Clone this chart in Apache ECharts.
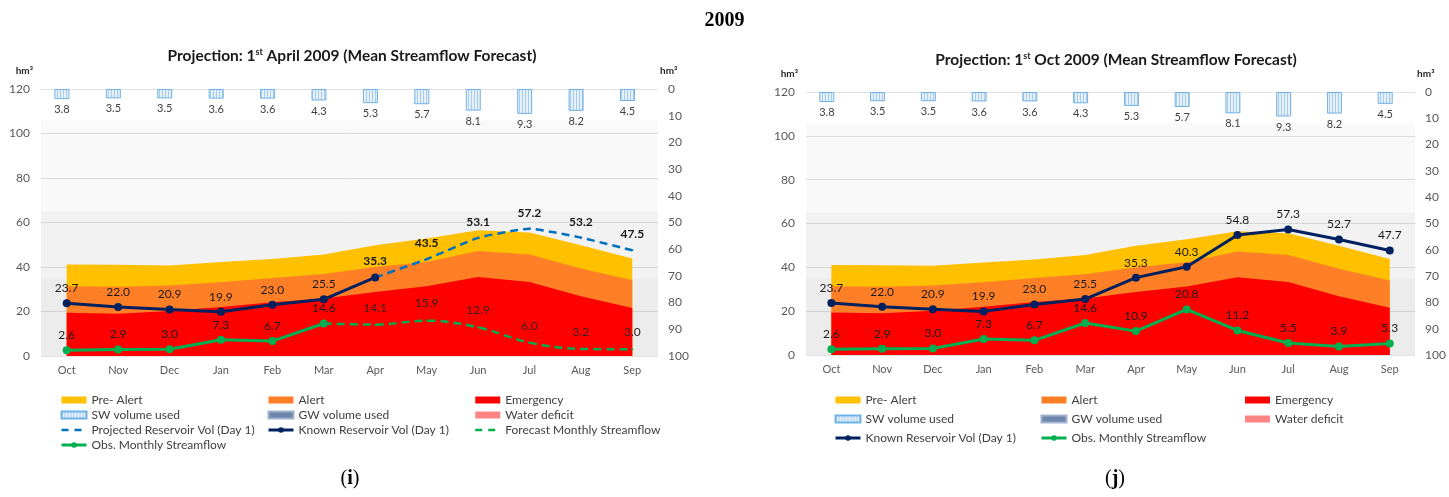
<!DOCTYPE html>
<html>
<head>
<meta charset="utf-8">
<title>2009 reservoir projections</title>
<script src="https://cdn.jsdelivr.net/npm/echarts@6/dist/echarts.min.js"></script>
<style>
  html, body { margin: 0; padding: 0; background: #ffffff; }
  #chart { width: 1449px; height: 497px; }
</style>
</head>
<body>
<div id="chart"></div>
<script>
// ---- data ----
const months = ['Oct', 'Nov', 'Dec', 'Jan', 'Feb', 'Mar', 'Apr', 'May', 'Jun', 'Jul', 'Aug', 'Sep'];

// Operating thresholds (upper edge of each zone, hm³)
const emergencyTop = [19.4, 19.0, 20.2, 22.0, 24.2, 25.8, 28.8, 31.3, 35.5, 33.3, 26.8, 21.6];
const alertTop     = [31.4, 31.1, 31.7, 33.2, 35.1, 36.9, 40.0, 42.3, 47.2, 45.6, 39.3, 34.0];
const preAlertTop  = [41.1, 41.0, 40.7, 42.2, 43.6, 45.6, 49.8, 52.8, 56.5, 55.5, 49.8, 43.8];

// Surface water volume used (hm³, secondary inverted axis)
const swUsed = [3.8, 3.5, 3.5, 3.6, 3.6, 4.3, 5.3, 5.7, 8.1, 9.3, 8.2, 4.5];

// Projection from 1st April 2009
const knownVolApr     = [23.7, 22.0, 20.9, 19.9, 23.0, 25.5, 35.3, null, null, null, null, null];
const projectedVolApr = [null, null, null, null, null, null, 35.3, 43.5, 53.1, 57.2, 53.2, 47.5];
const obsFlowApr      = [2.6, 2.9, 3.0, 7.3, 6.7, 14.6, null, null, null, null, null, null];
const forecastFlowApr = [null, null, null, null, null, 14.6, 14.1, 15.9, 12.9, 6.0, 3.2, 3.0];

// Projection from 1st October 2009
const knownVolOct = [23.7, 22.0, 20.9, 19.9, 23.0, 25.5, 35.3, 40.3, 54.8, 57.3, 52.7, 47.7];
const obsFlowOct  = [2.6, 2.9, 3.0, 7.3, 6.7, 14.6, 10.9, 20.8, 11.2, 5.5, 3.9, 5.3];

// Background storage bands (hm³)
const bandEdges  = [0, 35, 65, 106];
const bandColors = ['rgba(0,0,0,0.075)', 'rgba(0,0,0,0.05)', 'rgba(0,0,0,0.022)'];

const leftTicks  = { min: 0, max: 120, interval: 20 };
const rightTicks = { min: 0, max: 100, interval: 10 };

// ---- styling helpers ----
const FONT = 'Lato, "Open Sans", sans-serif';
const SERIF = '"Liberation Serif", "DejaVu Serif", serif';
const TXT = '#404040';
const AXTXT = '#595959';
const DASH = [8, 5];

function stripePattern() {
  const c = document.createElement('canvas');
  c.width = 3; c.height = 4;
  const g = c.getContext('2d');
  g.fillStyle = '#e6f0fa';
  g.fillRect(0, 0, 3, 4);
  g.fillStyle = '#a8ccee';
  g.fillRect(0, 0, 1, 4);
  return c;
}
const swFill = { image: stripePattern(), repeat: 'repeat' };

const fmt = p => (p.value == null ? '' : Number(p.value).toFixed(1));

function bandAreas() {
  const out = [];
  for (let i = 0; i < bandColors.length; i++) {
    out.push([{ yAxis: bandEdges[i], itemStyle: { color: bandColors[i] } }, { yAxis: bandEdges[i + 1] }]);
  }
  return out;
}

function zoneSeries(g, name, values, color, withBands) {
  const s = {
    name, type: 'line', xAxisIndex: g, yAxisIndex: g * 2,
    data: values, symbol: 'none', silent: true,
    lineStyle: { width: 0, color },
    itemStyle: { color },
    areaStyle: { color, opacity: 1 },
    z: 1
  };
  if (withBands) {
    s.markArea = { silent: true, z: 0, data: bandAreas() };
  }
  return s;
}

function labelCfg(extra) {
  return Object.assign({ show: true, position: 'top', distance: 5, color: '#1a1a1a', fontSize: 12, fontFamily: FONT, formatter: fmt }, extra || {});
}

function buildChart(g, opts) {
  const series = [];
  series.push(zoneSeries(g, 'Pre- Alert', preAlertTop, '#ffc000', true));
  series.push(zoneSeries(g, 'Alert', alertTop, '#ff7f27', false));
  series.push(zoneSeries(g, 'Emergency', emergencyTop, '#ff0000', false));

  series.push({
    name: 'SW volume used', type: 'bar', xAxisIndex: g, yAxisIndex: g * 2 + 1,
    data: swUsed, barWidth: 15,
    itemStyle: { color: swFill, borderColor: '#71b1e6', borderWidth: 1 },
    label: { show: true, position: 'bottom', distance: 5, color: TXT, fontSize: 11, fontFamily: FONT, formatter: fmt },
    z: 2
  });
  series.push({
    name: 'GW volume used', type: 'bar', xAxisIndex: g, yAxisIndex: g * 2 + 1,
    data: [], itemStyle: { color: '#6d85ab', borderColor: '#9fb1cc', borderWidth: 1 }
  });
  series.push({
    name: 'Water deficit', type: 'bar', xAxisIndex: g, yAxisIndex: g * 2 + 1,
    data: [], itemStyle: { color: '#ff8585' }
  });

  if (opts.projected) {
    series.push({
      name: 'Projected Reservoir Vol (Day 1)', type: 'line', xAxisIndex: g, yAxisIndex: g * 2,
      data: opts.projected, symbol: 'circle', symbolSize: 2, smooth: 0.15,
      lineStyle: { color: '#0070c0', width: 2.5, type: DASH },
      itemStyle: { color: '#0070c0' },
      label: labelCfg({ fontWeight: 'bold', distance: 9 }),
      z: 4
    });
  }
  const hideKnown = opts.projected ? opts.projected.map(v => v != null) : months.map(() => false);
  series.push({
    name: 'Known Reservoir Vol (Day 1)', type: 'line', xAxisIndex: g, yAxisIndex: g * 2,
    data: opts.known, symbol: 'circle', symbolSize: 8, showAllSymbol: true,
    lineStyle: { color: '#002060', width: 3 },
    itemStyle: { color: '#002060' },
    label: labelCfg({ formatter: p => (hideKnown[p.dataIndex] ? '' : fmt(p)) }),
    z: 5
  });
  if (opts.forecast) {
    series.push({
      name: 'Forecast Monthly Streamflow', type: 'line', xAxisIndex: g, yAxisIndex: g * 2,
      data: opts.forecast, symbol: 'circle', symbolSize: 2, smooth: 0.35,
      lineStyle: { color: '#00b050', width: 2.5, type: DASH },
      itemStyle: { color: '#00b050' },
      label: labelCfg({ color: '#3a2020', distance: 10, formatter: p => (opts.obs[p.dataIndex] != null ? '' : fmt(p)) }),
      z: 4
    });
  }
  series.push({
    name: 'Obs. Monthly Streamflow', type: 'line', xAxisIndex: g, yAxisIndex: g * 2,
    data: opts.obs, symbol: 'circle', symbolSize: 8, showAllSymbol: true,
    lineStyle: { color: '#00b050', width: 3 },
    itemStyle: { color: '#00b050' },
    label: labelCfg(),
    z: 5
  });
  return series;
}

function xAxisFor(g) {
  return {
    type: 'category', gridIndex: g, data: months, boundaryGap: true,
    axisLine: { show: false }, axisTick: { show: false },
    axisLabel: { color: AXTXT, fontSize: 11, fontFamily: FONT, margin: 9 }
  };
}
function yAxesFor(g) {
  return [
    Object.assign({
      type: 'value', gridIndex: g, position: 'left',
      name: 'hm³', nameLocation: 'end', nameGap: 13,
      nameTextStyle: { color: '#262626', fontSize: 10, fontWeight: 'bold', fontFamily: FONT, align: 'right', padding: [0, 8, 0, 0] },
      axisLine: { show: false }, axisTick: { show: false },
      splitLine: { lineStyle: { color: '#e2e2e2', width: 1 } },
      axisLabel: { color: AXTXT, fontSize: 12, fontFamily: FONT, margin: 11 }
    }, leftTicks),
    Object.assign({
      type: 'value', gridIndex: g, position: 'right', inverse: true,
      name: 'hm³', nameLocation: 'start', nameGap: 13,
      nameTextStyle: { color: '#262626', fontSize: 10, fontWeight: 'bold', fontFamily: FONT, align: 'left', padding: [0, 0, 0, 2] },
      axisLine: { show: false }, axisTick: { show: false },
      splitLine: { show: false },
      axisLabel: { color: AXTXT, fontSize: 12, fontFamily: FONT, margin: 10 }
    }, rightTicks)
  ];
}

const dashedNames = ['Projected Reservoir Vol (Day 1)', 'Forecast Monthly Streamflow'];
const markerNames = ['Known Reservoir Vol (Day 1)', 'Obs. Monthly Streamflow'];

function legendCol(left, names, gap) {
  return {
    orient: 'vertical', left, top: 388, itemGap: gap, itemWidth: 25, itemHeight: 7,
    selectedMode: false,
    textStyle: { color: TXT, fontSize: 12, fontFamily: FONT, lineHeight: 14 },
    data: names.map(n => {
      if (dashedNames.includes(n)) {
        return { name: n, itemStyle: { opacity: 0 }, lineStyle: { width: 2.5, type: [7, 6] } };
      }
      if (markerNames.includes(n)) {
        return { name: n, lineStyle: { width: 3 } };
      }
      return { name: n, icon: 'rect' };
    })
  };
}

const titleStyle = { color: '#1a1a1a', fontSize: 15.5, fontWeight: 'bold', fontFamily: FONT,
  rich: { sup: { fontSize: 9, fontWeight: 'bold', fontFamily: FONT, color: '#1a1a1a', verticalAlign: 'top' } } };
const captionStyle = { fontFamily: SERIF, fontSize: 20, fontWeight: 'normal', color: '#000',
  rich: { b: { fontFamily: SERIF, fontSize: 20, fontWeight: 'bold', color: '#000' } } };

const option = {
  animation: false,
  backgroundColor: '#ffffff',
  title: [
    { text: '2009', left: 'center', top: 6, textStyle: { fontFamily: SERIF, fontSize: 20, fontWeight: 'bold', color: '#000' } },
    { text: 'Projection: 1{sup|st} April 2009 (Mean Streamflow Forecast)', left: 347, top: 43, textAlign: 'center', textStyle: titleStyle },
    { text: 'Projection: 1{sup|st} Oct 2009 (Mean Streamflow Forecast)', left: 1111, top: 47, textAlign: 'center', textStyle: titleStyle },
    { text: '({b|i})', left: 345, top: 464, textAlign: 'center', textStyle: captionStyle },
    { text: '({b|j})', left: 1110, top: 464, textAlign: 'center', textStyle: captionStyle }
  ],
  grid: [
    { left: 41, right: 791, top: 89, bottom: 141 },
    { left: 806, right: 26, top: 92, bottom: 142 }
  ],
  xAxis: [xAxisFor(0), xAxisFor(1)],
  yAxis: [...yAxesFor(0), ...yAxesFor(1)],
  legend: [
    legendCol(55,  ['Pre- Alert', 'SW volume used', 'Projected Reservoir Vol (Day 1)', 'Obs. Monthly Streamflow'], 1),
    legendCol(262, ['Alert', 'GW volume used', 'Known Reservoir Vol (Day 1)'], 1),
    legendCol(469, ['Emergency', 'Water deficit', 'Forecast Monthly Streamflow'], 1),
    legendCol(829, ['Pre- Alert', 'SW volume used', 'Known Reservoir Vol (Day 1)'], 5),
    legendCol(1035, ['Alert', 'GW volume used', 'Obs. Monthly Streamflow'], 5),
    legendCol(1240, ['Emergency', 'Water deficit'], 5)
  ],
  series: [
    ...buildChart(0, { known: knownVolApr, projected: projectedVolApr, obs: obsFlowApr, forecast: forecastFlowApr }),
    ...buildChart(1, { known: knownVolOct, obs: obsFlowOct })
  ]
};

const chart = echarts.init(document.getElementById('chart'), null, { renderer: 'canvas' });
chart.setOption(option);
</script>
</body>
</html>
